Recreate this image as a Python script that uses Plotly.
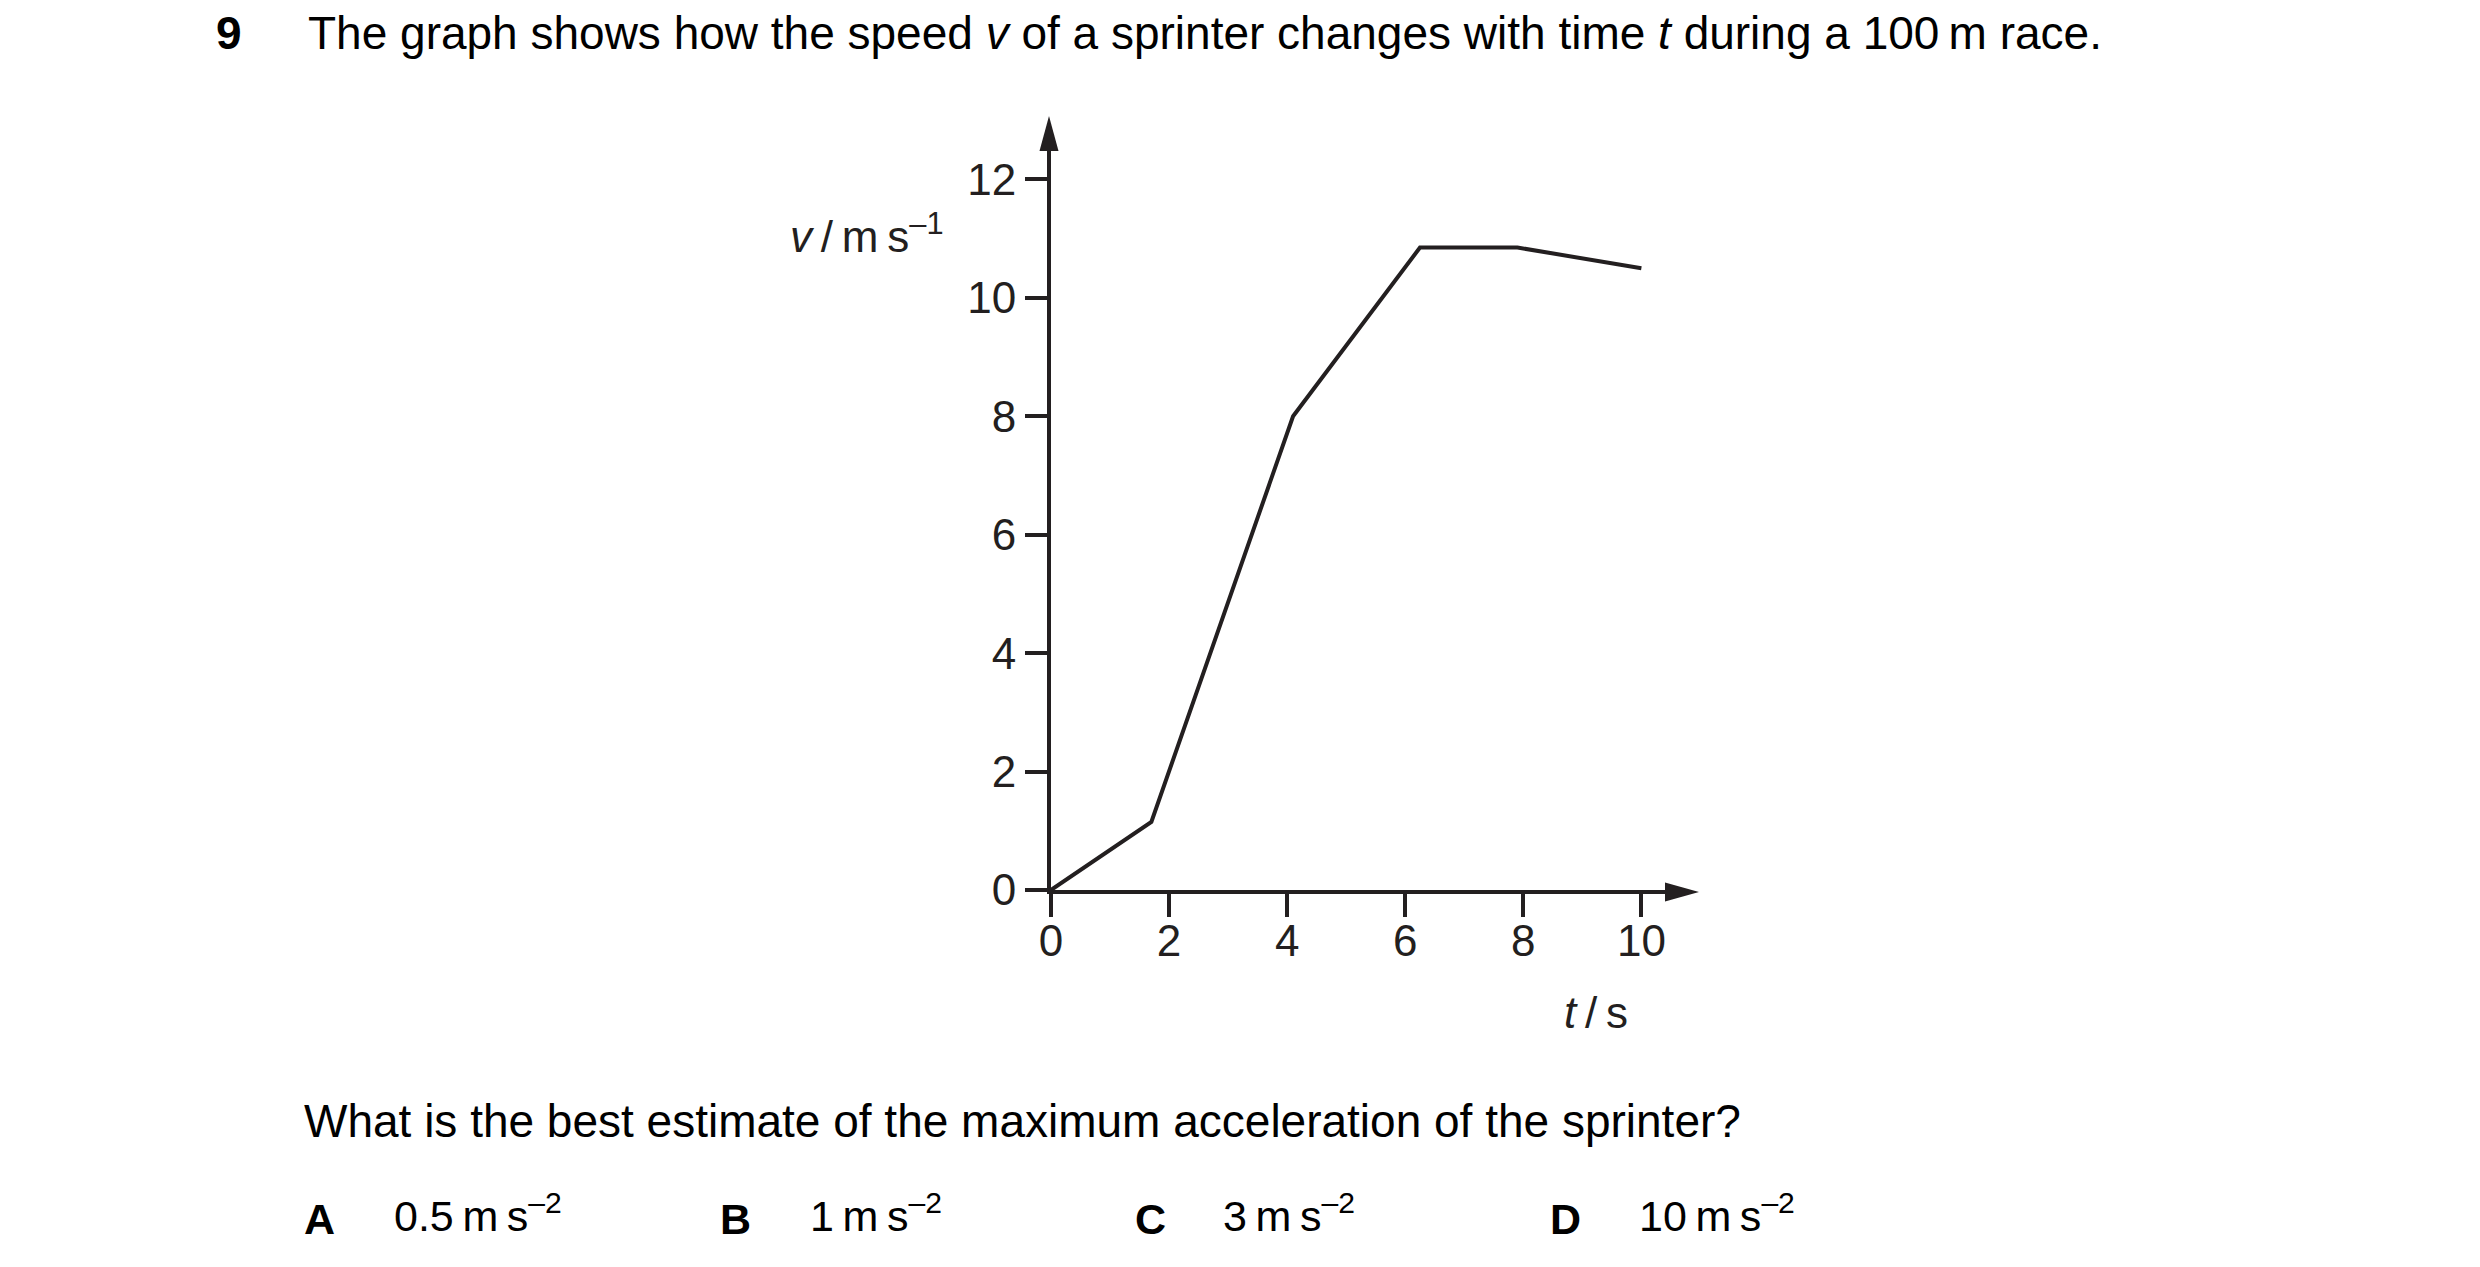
import plotly.graph_objects as go

# speed-time graph
t_s = [0, 1.7, 4.1, 6.25, 7.9, 10.0]
v_ms = [0, 1.15, 8.0, 10.85, 10.85, 10.5]

x_ticks = [0, 2, 4, 6, 8, 10]
y_ticks = [0, 2, 4, 6, 8, 10, 12]

options = ['A', 'B', 'C', 'D']
answers = ['0.5\u2009m\u2009s<sup>–2</sup>', '1\u2009m\u2009s<sup>–2</sup>',
           '3\u2009m\u2009s<sup>–2</sup>', '10\u2009m\u2009s<sup>–2</sup>']

W, H = 2480, 1267
L, R, T, B = 1043, 823, 143, 385
pw, ph = W - L - R, H - T - B
INK = '#231f20'
FONT = 'Liberation Sans, Arial, sans-serif'


def px(x):
    return (x - L) / pw


def py(y):
    return (H - B - y) / ph


fig = go.Figure()
fig.add_trace(go.Scatter(x=t_s, y=v_ms, mode='lines',
                         line=dict(color=INK, width=4),
                         cliponaxis=False, hoverinfo='skip'))

axis_common = dict(showline=True, linecolor=INK, linewidth=4,
                   ticks='outside', tickcolor=INK, tickwidth=3.5,
                   showgrid=False, zeroline=False,
                   tickfont=dict(family=FONT, size=44, color=INK))
fig.update_xaxes(range=[0, 10.4], tickvals=x_ticks, ticklen=23,
                 ticklabelstandoff=-14, **axis_common)
fig.update_yaxes(range=[0, 12.48], tickvals=y_ticks, ticklen=22, **axis_common)

# arrow heads on the axes
fig.add_shape(type='path', xref='paper', yref='paper', xsizemode='pixel', ysizemode='pixel',
              xanchor=0, yanchor=1, path='M -11.5,0 L 7.5,0 L -2,35 Z',
              fillcolor=INK, line=dict(width=0))
fig.add_shape(type='path', xref='paper', yref='paper', xsizemode='pixel', ysizemode='pixel',
              xanchor=1, yanchor=0, path='M 0,-11.5 L 0,7.5 L 34,-2 Z',
              fillcolor=INK, line=dict(width=0))

txt = dict(family=FONT, size=46, color='black')
opt = dict(family=FONT, size=43, color='black')
ann = []
ann.append(dict(x=px(206), y=py(25), text='<b>9</b>', xanchor='left', yanchor='middle', font=txt))
ann.append(dict(x=px(298), y=py(25),
                text='The graph shows how the speed <i>v</i> of a sprinter changes with time '
                     '<i>t</i> during a 100\u2009m race.',
                xanchor='left', yanchor='middle', font=txt))
ann.append(dict(x=px(859), y=py(225), text='<i>v</i>\u2009/\u2009m\u2009s<sup>–1</sup>',
                xanchor='center', yanchor='middle', font=dict(family=FONT, size=44, color=INK)))
ann.append(dict(x=px(1588), y=py(1004), text='<i>t</i>\u2009/\u2009s',
                xanchor='center', yanchor='middle', font=dict(family=FONT, size=44, color=INK)))
ann.append(dict(x=px(294), y=py(1113),
                text='What is the best estimate of the maximum acceleration of the sprinter?',
                xanchor='left', yanchor='middle', font=txt))

letter_x = [294, 710, 1125, 1540]
value_x = [384, 800, 1213, 1629]
for i in range(len(options)):
    ann.append(dict(x=px(letter_x[i]), y=py(1211), text='<b>' + options[i] + '</b>',
                    xanchor='left', yanchor='middle', font=opt))
    ann.append(dict(x=px(value_x[i]), y=py(1205), text=answers[i],
                    xanchor='left', yanchor='middle', font=opt))

for a in ann:
    a.update(xref='paper', yref='paper', showarrow=False)

fig.update_layout(width=W, height=H, margin=dict(l=L, r=R, t=T, b=B),
                  paper_bgcolor='white', plot_bgcolor='white',
                  showlegend=False, annotations=ann)

fig.write_html('out.html')
